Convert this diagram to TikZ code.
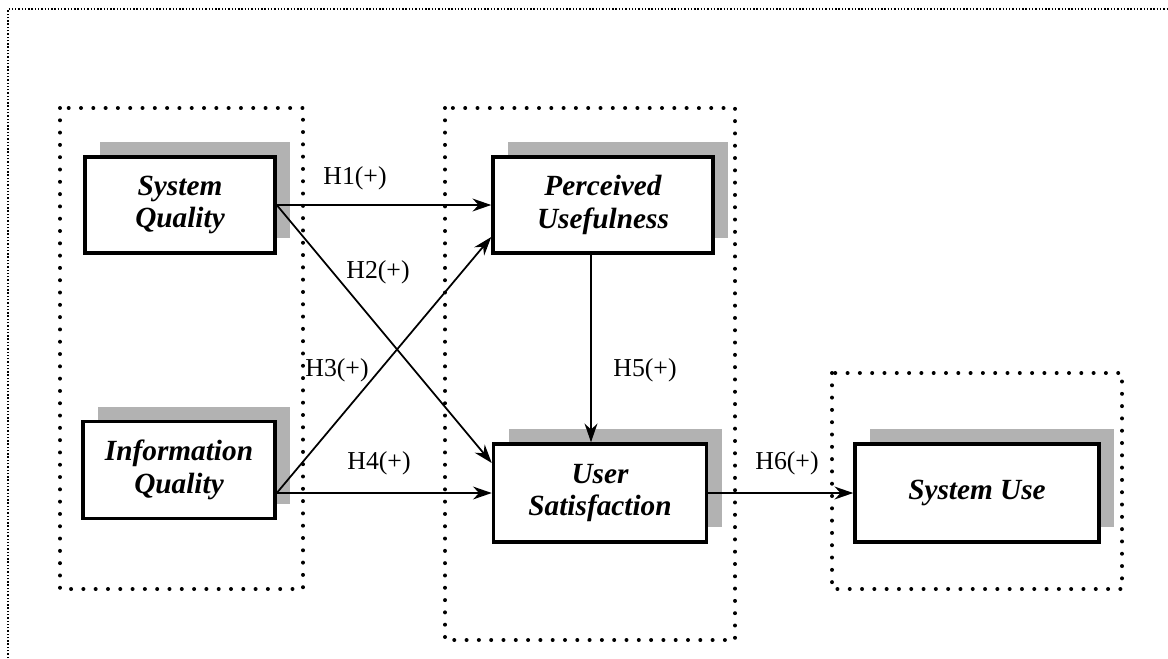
\documentclass[tikz,border=0pt]{standalone}
\usepackage{fontspec}
\setmainfont{Liberation Serif}
\usetikzlibrary{arrows.meta,shadows}

\begin{document}
\begin{tikzpicture}[x=0.03cm,y=-0.03cm,>={Stealth[length=16pt,width=11pt]},
    var/.style={draw,line width=3pt,fill=white,align=center,inner sep=2pt,
      font=\fontsize{25}{28}\selectfont\bfseries\itshape,
      drop shadow={shadow xshift=0.45cm,shadow yshift=0.45cm,fill=gray!60,opacity=1}},
    grp/.style={line width=3.4pt,dash pattern=on 0pt off 10.5pt,line cap=round},
    hyp/.style={font=\fontsize{22}{24}\selectfont},
    link/.style={->,line width=1.5pt}]
    \useasboundingbox (0,0) rectangle (1168,658);
    % outer frame
    \draw [line width=1.3pt,dash pattern=on 1.2pt off 1.6pt] (8,658) -- (8,9) -- (1168,9);
    % groups
    \draw [grp] (60,108) rectangle (303,589);
    \draw [grp] (445,108) rectangle (735,640);
    \draw [grp] (832,373) rectangle (1122,589);
    % variables
    \node [var,minimum width=5.7cm,minimum height=2.88cm] (sq) at (180,205) {System\\Quality};
    \node [var,minimum width=5.76cm,minimum height=2.91cm] (iq) at (179,470) {Information\\Quality};
    \node [var,minimum width=6.6cm,minimum height=2.88cm] (pu) at (603,205) {Perceived\\Usefulness};
    \node [var,minimum width=6.39cm,minimum height=2.94cm] (us) at (600,493) {User\\Satisfaction};
    \node [var,minimum width=7.32cm,minimum height=2.94cm] (su) at (977,493) {System Use};
    % hypotheses
    \coordinate (iqout) at (iq.east |- us.west);
    \draw [link] (sq.east) -- (sq.east -| pu.west);
    \draw [link] (sq.east) -- ([yshift=0.9cm]us.west);
    \draw [link] (iqout) -- ([yshift=-0.96cm]pu.west);
    \draw [link] (iqout) -- (us.west);
    \draw [link] ([xshift=-0.36cm]pu.south) -- ([xshift=-0.36cm]pu.south |- us.north);
    \draw [link] (us.east) -- (su.west);
    \node [hyp] (h1) at (355,178) {H1(+)};
    \node [hyp] (h2) at (378,272) {H2(+)};
    \node [hyp] (h3) at (337,370) {H3(+)};
    \node [hyp] (h4) at (379,463) {H4(+)};
    \node [hyp] (h5) at (645,370) {H5(+)};
    \node [hyp] (h6) at (787,463) {H6(+)};
\end{tikzpicture}
\end{document}
